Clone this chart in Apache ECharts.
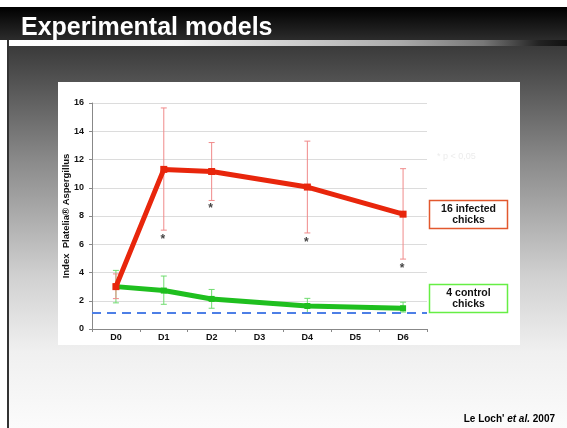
<!DOCTYPE html>
<html>
<head>
<meta charset="utf-8">
<script src="https://cdn.jsdelivr.net/npm/echarts@6/dist/echarts.min.js"></script>
<style>
html, body { margin: 0; padding: 0; background: #fff; }
#chart { width: 567px; height: 428px; }
</style>
</head>
<body>
<div id="chart"></div>
<script>
var days = ["D0", "D1", "D2", "D3", "D4", "D5", "D6"];
var yTicks = [0, 16, 2];

// mean index per day (null = no measure)
var infected = [3.0, 11.3, 11.15, null, 10.05, null, 8.13];
var control = [3.0, 2.72, 2.13, null, 1.63, null, 1.47];

// error bars [day index, low, high]
var infectedErr = [[0, 2.15, 3.9], [1, 7.0, 15.65], [2, 9.1, 13.2], [4, 6.8, 13.3], [6, 4.95, 11.35]];
var controlErr = [[0, 1.85, 4.15], [1, 1.75, 3.75], [2, 1.47, 2.8], [4, 1.15, 2.17], [6, 1.2, 1.9]];

// significance stars [day index, y]
var stars = [[1, 6.55], [2, 8.7], [4, 6.3], [6, 4.5]];
var cutoff = 1.15;

var FONT = "Liberation Sans, Arial, sans-serif";
var chart = echarts.init(document.getElementById("chart"), null, { renderer: "canvas" });

function errorBars(color) {
	return function (params, api) {
		var x = api.value(0);
		var lo = api.coord([x, api.value(1)]);
		var hi = api.coord([x, api.value(2)]);
		var w = 3;
		var st = { stroke: color, lineWidth: 1 };
		return {
			type: "group",
			children: [
				{ type: "line", shape: { x1: hi[0], y1: hi[1], x2: lo[0], y2: lo[1] }, style: st },
				{ type: "line", shape: { x1: hi[0] - w, y1: hi[1], x2: hi[0] + w, y2: hi[1] }, style: st },
				{ type: "line", shape: { x1: lo[0] - w, y1: lo[1], x2: lo[0] + w, y2: lo[1] }, style: st }
			]
		};
	};
}

var option = {
	animation: false,
	backgroundColor: "#ffffff",
	graphic: [
		// slide background
		{
			type: "rect", z: -20, silent: true,
			shape: { x: 8, y: 46, width: 559, height: 382 },
			style: {
				fill: { type: "linear", x: 0, y: 0, x2: 0, y2: 1, colorStops: [
					{ offset: 0, color: "#3a3a3a" },
					{ offset: 0.3, color: "#8a8a8a" },
					{ offset: 0.6, color: "#d0d0d0" },
					{ offset: 0.8, color: "#f0f0f0" },
					{ offset: 1, color: "#fbfbfb" }
				] }
			}
		},
		{ type: "rect", z: -20, silent: true, shape: { x: 7, y: 40, width: 2, height: 388 }, style: { fill: "#333" } },
		// header
		{
			type: "rect", z: -20, silent: true,
			shape: { x: 0, y: 7, width: 567, height: 33 },
			style: {
				fill: { type: "linear", x: 0, y: 0, x2: 0, y2: 1, colorStops: [
					{ offset: 0, color: "#000" },
					{ offset: 1, color: "#2c2c2c" }
				] }
			}
		},
		{
			type: "rect", z: -20, silent: true,
			shape: { x: 9, y: 40, width: 558, height: 6 },
			style: {
				fill: { type: "linear", x: 0, y: 0, x2: 1, y2: 0, colorStops: [
					{ offset: 0, color: "#ffffff" },
					{ offset: 0.3, color: "#f4f4f4" },
					{ offset: 0.7, color: "#aaaaaa" },
					{ offset: 0.85, color: "#777777" },
					{ offset: 0.95, color: "#222222" },
					{ offset: 1, color: "#111111" }
				] }
			}
		},
		{
			type: "text", z: 10, silent: true,
			style: { x: 21, y: 28, text: "Experimental models", fill: "#fff", font: "bold 25px " + FONT, verticalAlign: "middle" }
		},
		// white chart panel
		{ type: "rect", z: -10, silent: true, shape: { x: 58, y: 82, width: 462, height: 263 }, style: { fill: "#fff" } },
		// legend boxes
		{
			type: "rect", z: 10, silent: true,
			shape: { x: 429.5, y: 200.5, width: 78, height: 28 },
			style: { fill: "#fff", stroke: "#e2582e", lineWidth: 1.5 }
		},
		{
			type: "text", z: 11, silent: true,
			style: { x: 468.5, y: 214.5, text: "16 infected\nchicks", align: "center", verticalAlign: "middle", fill: "#111", font: "bold 10.5px " + FONT, lineHeight: 11 }
		},
		{
			type: "rect", z: 10, silent: true,
			shape: { x: 429.5, y: 284.5, width: 78, height: 28 },
			style: { fill: "#fff", stroke: "#66ee44", lineWidth: 1.5 }
		},
		{
			type: "text", z: 11, silent: true,
			style: { x: 468.5, y: 298.5, text: "4 control\nchicks", align: "center", verticalAlign: "middle", fill: "#111", font: "bold 10.5px " + FONT, lineHeight: 11 }
		},
		{
			type: "text", z: 11, silent: true,
			style: { x: 437, y: 157, text: "* p < 0,05", verticalAlign: "middle", fill: "#ececec", font: "9px " + FONT }
		},
		// reference
		{
			type: "text", z: 11, silent: true,
			style: {
				x: 555, y: 419, align: "right", verticalAlign: "middle",
				text: "Le Loch' {i|et al.} 2007",
				font: "bold 10px " + FONT, fill: "#000",
				rich: { i: { fontStyle: "italic", fontWeight: "bold", fontSize: 10, fontFamily: FONT, fill: "#000" } }
			}
		}
	],
	grid: { left: 92, right: 140, top: 103, bottom: 99 },
	xAxis: {
		type: "category",
		data: days,
		boundaryGap: true,
		axisLine: { lineStyle: { color: "#888", width: 1 } },
		axisTick: { show: true, length: 3, lineStyle: { color: "#888" } },
		axisLabel: { margin: 4, color: "#111", fontWeight: "bold", fontSize: 9, fontFamily: FONT },
		splitLine: { show: false }
	},
	yAxis: {
		type: "value",
		min: yTicks[0], max: yTicks[1], interval: yTicks[2],
		name: "Index  Platelia® Aspergillus",
		nameLocation: "middle",
		nameGap: 21,
		nameMoveOverlap: false,
		nameTextStyle: { color: "#111", fontWeight: "bold", fontSize: 9.5, fontFamily: FONT },
		axisLine: { show: true, lineStyle: { color: "#888", width: 1 } },
		axisTick: { show: true, length: 3, lineStyle: { color: "#888" } },
		axisLabel: { margin: 8, color: "#111", fontWeight: "bold", fontSize: 9, fontFamily: FONT },
		splitLine: { lineStyle: { color: "#dcdcdc", width: 1 } }
	},
	series: [
		{
			type: "custom", name: "controlErr", z: 3,
			renderItem: errorBars("#70dc70"),
			data: controlErr
		},
		{
			type: "custom", name: "infectedErr", z: 3,
			renderItem: errorBars("#f08a8a"),
			data: infectedErr
		},
		{
			type: "line", name: "4 control chicks", z: 4,
			data: control,
			connectNulls: true,
			symbol: "rect", symbolSize: 6,
			itemStyle: { color: "#1fbf1f" },
			lineStyle: { color: "#1fbf1f", width: 5 },
			markLine: {
				silent: true, symbol: "none", label: { show: false },
				lineStyle: { color: "#4d7fe6", width: 2, type: [9, 6] },
				data: [{ yAxis: cutoff }]
			}
		},
		{
			type: "line", name: "16 infected chicks", z: 5,
			data: infected,
			connectNulls: true,
			symbol: "rect", symbolSize: 7,
			itemStyle: { color: "#e8260c" },
			lineStyle: { color: "#e8260c", width: 5 }
		},
		{
			type: "scatter", name: "stars", z: 6,
			data: stars,
			symbolSize: 0,
			label: { show: true, position: "inside", formatter: "*", color: "#111", fontSize: 12, fontWeight: "bold", fontFamily: FONT, offset: [-1, 3] }
		}
	]
};

chart.setOption(option);
</script>
</body>
</html>
